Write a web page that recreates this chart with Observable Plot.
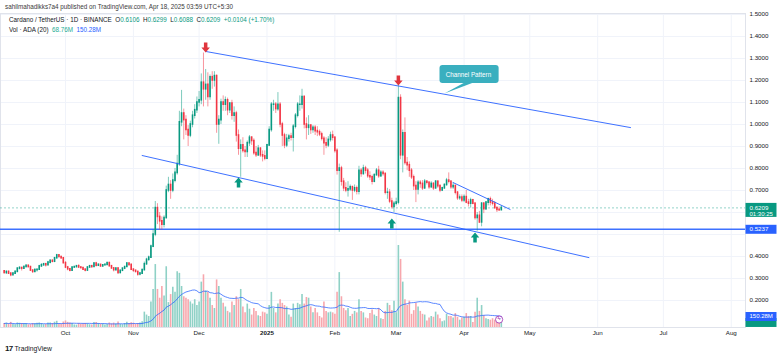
<!DOCTYPE html>
<html><head><meta charset="utf-8">
<script src="https://cdn.jsdelivr.net/npm/d3@7"></script>
<script src="https://cdn.jsdelivr.net/npm/@observablehq/plot@0.6"></script>
<style>
body{margin:0;background:#fff;font-family:"Liberation Sans",Arial,sans-serif;}
#wrap{position:relative;width:780px;height:358px;overflow:hidden;background:#fff;}
#wrap svg{position:absolute;left:0;top:0;}
.t{position:absolute;white-space:nowrap;font-size:6.3px;line-height:8px;color:#131722;}
.g{color:#089981}.b{color:#2962ff}.gr{color:#22ab94}
</style></head><body>
<div id="wrap">
  <div class="t" style="left:5px;top:3px;color:#3a3a3a">sahilmahadikks7a4 published on TradingView.com, Apr 18, 2025 03:59 UTC+5:30</div>
  <div class="t" style="left:9px;top:16px;z-index:3">Cardano / TetherUS · 1D · BINANCE&nbsp; O<span class="g">0.6106</span>&nbsp; H<span class="g">0.6299</span>&nbsp; L<span class="g">0.6088</span>&nbsp; C<span class="g">0.6209</span>&nbsp; <span class="g">+0.0104 (+1.70%)</span></div>
  <div class="t" style="left:9px;top:26px;z-index:3">Vol · ADA (20)&nbsp; <span class="gr">68.76M</span>&nbsp; <span class="b">150.28M</span></div>
  <div class="t" style="left:5px;top:345px;font-size:6.8px;z-index:3"><b style="font-size:8px;letter-spacing:-0.6px">17</b> TradingView</div>
</div>
<script>
// ---- data (ADAUSDT daily, Binance) ----
const startDate = "2024-09-03";
const firstOpen = 0.333;
const closes = [
 .325,.330,.322,.315,.322,.330,.345,.348,.345,.352,.358,.352,.336,.330,.338,.340,.355,.360,.365,.360,.372,.380,.376,.392,.405,.398,.392,.370,
 .350,.342,.336,.350,.352,.356,.350,.348,.340,.336,.350,.356,.352,.368,.358,.362,.355,.360,.362,.370,.356,.346,.338,.345,.325,.335,.345,.352,.368,.362,.340,
 .335,.330,.318,.322,.338,.365,.385,.395,.445,.500,.620,.580,.560,.545,.575,.700,.725,.700,.745,.780,.820,1.010,1.050,1.020,.975,.950,1.000,1.040,1.065,1.100,
 1.110,1.190,1.160,1.180,1.125,1.215,1.200,1.220,1.000,1.020,1.100,1.090,1.110,1.065,1.095,1.040,1.050,.950,.890,.905,.880,.875,.915,.940,.925,.870,.860,.890,.860,.855,.845,
 .905,.975,1.090,1.090,1.070,1.090,1.000,.950,.905,.935,.945,.940,.990,1.040,1.090,1.090,1.125,1.000,.985,.995,.975,.985,.970,.965,.955,.935,.915,.905,.930,.950,.940,
 .880,.790,.800,.740,.710,.700,.705,.715,.700,.710,.695,.790,.775,.800,.790,.765,.760,.740,.770,.790,.765,.780,.775,.690,.690,.650,.625,.640,
 .645,1.120,.860,.960,.825,.815,.790,.760,.720,.705,.735,.730,.710,.740,.735,.715,.730,.710,.740,.720,.700,.710,.725,.745,.740,.715,.720,.690,.665,.668,.655,
 .670,.645,.640,.655,.640,.575,.585,.555,.640,.615,.645,.660,.645,.640,.620,.612,.6105,.6209];
const highs = [
 .336,.334,.334,.327,.326,.333,.348,.353,.350,.357,.362,.360,.355,.338,.344,.343,.360,.368,.367,.366,.378,.384,.386,.396,.410,.406,.401,.395,
 .376,.355,.346,.352,.355,.359,.362,.354,.350,.344,.353,.358,.357,.372,.374,.367,.364,.363,.365,.373,.374,.358,.348,.348,.350,.338,.347,.355,.372,.370,.365,
 .345,.338,.332,.328,.342,.375,.392,.402,.452,.520,.650,.640,.600,.580,.585,.720,.760,.745,.775,.800,.860,1.060,1.155,1.070,1.040,.995,1.015,1.060,1.090,1.125,
 1.150,1.230,1.325,1.250,1.235,1.225,1.240,1.240,1.225,1.040,1.115,1.130,1.125,1.120,1.100,1.110,1.080,1.060,.975,.930,.940,.900,.925,.950,.945,.935,.900,.905,.895,.880,.880,
 .910,.990,1.100,1.110,1.100,1.145,1.100,1.010,.960,.955,.955,.960,1.000,1.050,1.100,1.130,1.160,1.130,1.030,1.040,1.000,.995,.995,.990,.975,.965,.945,.940,.945,.965,.970,
 .945,.890,.820,.810,.755,.735,.740,.725,.720,.725,.720,.810,.800,.815,.810,.800,.785,.770,.775,.800,.810,.790,.790,.780,.710,.705,.665,.650,
 .665,1.180,1.135,.975,1.030,.850,.830,.800,.770,.740,.745,.745,.745,.750,.745,.740,.740,.735,.745,.745,.725,.715,.730,.755,.780,.745,.735,.725,.695,.680,.680,
 .680,.700,.660,.665,.660,.645,.600,.605,.645,.645,.650,.665,.670,.660,.650,.625,.625,.6299];
const lows = [
 .320,.318,.319,.308,.313,.318,.327,.339,.334,.342,.348,.349,.334,.323,.328,.329,.338,.352,.357,.352,.358,.366,.372,.373,.389,.394,.387,.366,
 .345,.335,.330,.334,.346,.348,.348,.343,.337,.330,.334,.348,.347,.350,.352,.355,.352,.352,.357,.359,.352,.342,.330,.335,.318,.322,.332,.340,.350,.356,.336,
 .328,.326,.310,.312,.318,.335,.360,.378,.392,.440,.490,.545,.520,.520,.530,.570,.690,.660,.690,.735,.770,.810,.990,.930,.950,.900,.940,.985,1.025,1.050,
 1.080,1.090,1.080,1.110,1.080,1.110,1.160,1.170,.960,.910,1.000,1.060,1.060,1.040,1.050,1.020,1.010,.920,.860,.760,.870,.850,.850,.900,.905,.860,.850,.855,.850,.830,.835,
 .840,.900,.965,1.060,1.050,1.060,.985,.900,.890,.895,.920,.925,.875,.980,1.030,1.060,1.070,.980,.930,.950,.955,.960,.950,.945,.945,.925,.860,.890,.895,.920,.925,
 .870,.770,.510,.720,.695,.690,.670,.695,.655,.690,.680,.680,.760,.770,.775,.755,.745,.725,.735,.765,.755,.760,.765,.680,.660,.640,.615,.600,
 .630,.635,.840,.780,.815,.790,.760,.750,.700,.645,.680,.710,.700,.705,.725,.705,.710,.700,.705,.710,.690,.695,.705,.720,.730,.705,.705,.680,.655,.655,.645,
 .645,.640,.625,.620,.635,.565,.515,.550,.535,.595,.610,.630,.630,.630,.615,.600,.605,.6088];
const volumes = [ // millions of ADA
 55,60,48,70,40,38,62,58,55,50,52,36,40,55,52,58,62,55,38,40,60,62,55,72,85,45,42,75,
 90,70,60,55,35,32,55,45,48,55,50,38,35,70,68,55,45,48,35,40,62,50,60,48,75,42,38,55,72,55,65,
 60,42,55,62,80,210,170,150,350,520,860,520,400,560,430,830,340,450,550,480,760,740,560,420,400,380,350,320,380,300,
 350,620,720,500,480,400,300,260,650,560,400,330,280,220,200,350,300,420,380,520,280,200,320,250,170,260,220,160,150,210,200,
 180,300,480,260,200,320,380,330,300,280,170,140,320,260,330,310,450,320,410,400,280,200,260,200,150,130,350,220,200,210,200,
 180,480,750,420,260,230,260,150,180,220,200,380,220,200,130,120,190,240,170,150,260,120,110,220,330,300,230,360,
 200,1120,930,620,380,300,360,180,230,330,280,220,180,170,90,130,150,140,210,170,120,80,90,180,150,150,130,190,140,100,130,
 140,190,150,150,70,210,400,220,300,160,120,110,100,120,100,110,80,68.76];

const priceTicks = [0.2,0.3,0.4,0.5,0.6,0.7,0.8,0.9,1.0,1.1,1.2,1.3,1.4,1.5];
// labels left visible on the price axis (0.5 and 0.6 sit under the highlighted price boxes)
const priceTickLabels = [0.2,0.3,0.4,0.7,0.8,0.9,1.0,1.1,1.2,1.3,1.4,1.5];
const monthTicks = ["2024-10-01","2024-11-01","2024-12-01","2025-01-01","2025-02-01","2025-03-01","2025-04-01","2025-05-01","2025-06-01","2025-07-01","2025-08-01"];
const monthLabels = ["Oct","Nov","Dec","2025","Feb","Mar","Apr","May","Jun","Jul","Aug"];

const supportLevel = 0.5237;
const lastPrice = 0.6209;
const countdown = "01:30:25";
const volMA = 150.28, lastVol = 68.76;

const channelLines = [
  {id:"upper", date:"2024-12-04", price:1.332}, {id:"upper", date:"2025-06-16", price:0.986},
  {id:"lower", date:"2024-11-05", price:0.859}, {id:"lower", date:"2025-05-28", price:0.395},
  {id:"short", date:"2025-03-27", price:0.736}, {id:"short", date:"2025-04-22", price:0.614}
];
const topArrows = [{date:"2024-12-04", price:1.35},{date:"2025-03-02", price:1.20}];
const bottomArrows = [{date:"2024-12-19", price:0.736},{date:"2025-02-27", price:0.55},{date:"2025-04-06", price:0.486}];
const callout = {text:"Channel Pattern", x1:"2025-03-21", x2:"2025-04-17", y1:1.186, y2:1.268, tx:"2025-04-03", ty:1.227};
const calloutTail = [{date:"2025-04-01", price:1.19},{date:"2025-04-05", price:1.19},{date:"2025-03-23", price:1.141}];
const eventDate = "2025-04-17";

// ---- build ----
const D = s => new Date(s);
const start = D(startDate);
const rows = closes.map((c,i)=>({date:d3.utcDay.offset(start,i), open:i?closes[i-1]:firstOpen, high:highs[i], low:lows[i], close:c, vol:volumes[i]}));
rows.forEach(d=>d.up = d.close>=d.open);
const ups = rows.filter(d=>d.up), downs = rows.filter(d=>!d.up);
const UP="#089981", DN="#f23645", BLUE="#2962ff", FONT='"Liberation Sans", Arial, sans-serif';
const chan = channelLines.map(d=>({...d, date:D(d.date)}));
const months = monthTicks.map((d,i)=>({date:D(d), label:monthLabels[i]}));

const common = {
  width:780, height:358, marginTop:13, marginBottom:31, marginLeft:0, marginRight:35,
  x:{type:"utc", domain:[D("2024-09-01T07:40Z"), D("2025-08-07T12:00Z")], axis:null}
};
const arrowSym = dir => ({draw(ctx,size){const s=Math.sqrt(size/Math.PI)*dir;
  ctx.moveTo(-0.35*s,-s);ctx.lineTo(0.35*s,-s);ctx.lineTo(0.35*s,0);ctx.lineTo(0.85*s,0);ctx.lineTo(0,s);ctx.lineTo(-0.85*s,0);ctx.lineTo(-0.35*s,0);ctx.closePath();}});
const boxSym = (w,h,top) => ({draw(ctx){ctx.rect(0,top,w,h);}});

const pricePlot = Plot.plot({
  ...common,
  y:{domain:[0.0773,1.5045], axis:null},
  style:{fontFamily:FONT, background:"white"},
  marks:[
    Plot.ruleY(priceTicks,{stroke:"#f0f3fa"}),
    Plot.ruleX(months,{x:"date", stroke:"#f0f3fa"}),
    Plot.frame({stroke:"#e0e3eb"}),
    Plot.ruleY([lastPrice],{stroke:UP, strokeOpacity:0.55, strokeDasharray:"2,2", strokeWidth:0.8}),
    Plot.ruleY([supportLevel],{stroke:BLUE, strokeWidth:1.4, strokeOpacity:0.9}),
    Plot.ruleX(ups,{x:"date", y1:"low", y2:"high", stroke:UP, strokeWidth:0.7, strokeOpacity:0.75}),
    Plot.ruleX(downs,{x:"date", y1:"low", y2:"high", stroke:DN, strokeWidth:0.7, strokeOpacity:0.75}),
    Plot.ruleX(ups,{x:"date", y1:"open", y2:"close", stroke:UP, strokeWidth:1.6, strokeLinecap:"square"}),
    Plot.ruleX(downs,{x:"date", y1:"open", y2:"close", stroke:DN, strokeWidth:1.6, strokeLinecap:"square"}),
    Plot.line(chan,{x:"date", y:"price", z:"id", stroke:BLUE, strokeWidth:1, strokeOpacity:0.9}),
    Plot.dot(topArrows,{x:d=>D(d.date), y:"price", r:5, symbol:arrowSym(1), fill:"#e0353d", stroke:"none"}),
    Plot.dot(bottomArrows,{x:d=>D(d.date), y:"price", r:5, symbol:arrowSym(-1), fill:UP, stroke:"none"}),
    Plot.line(calloutTail,{x:d=>D(d.date), y:"price", fill:"#3aafbf", stroke:"none", curve:"linear-closed"}),
    Plot.rect([callout],{x1:d=>D(d.x1), x2:d=>D(d.x2), y1:"y1", y2:"y2", fill:"#3aafbf", rx:3}),
    Plot.text([callout],{x:d=>D(d.tx), y:"ty", text:"text", fill:"white", fontSize:6.3}),
    Plot.text(priceTickLabels,{y:d=>d, text:d=>d.toFixed(4), frameAnchor:"right", dx:4, textAnchor:"start", fill:"#131722", fontSize:6.2}),
    Plot.dot([lastPrice],{y:d=>d, frameAnchor:"right", symbol:boxSym(31,14,-5), fill:UP, stroke:"none"}),
    Plot.text([lastPrice],{y:d=>d, text:d=>d.toFixed(4), frameAnchor:"right", dx:4, textAnchor:"start", fill:"white", fontSize:6.2}),
    Plot.text([lastPrice],{y:d=>d, text:()=>countdown, frameAnchor:"right", dx:4, dy:6.5, textAnchor:"start", fill:"white", fontSize:6}),
    Plot.dot([supportLevel],{y:d=>d, frameAnchor:"right", symbol:boxSym(31,9,-4.5), fill:BLUE, stroke:"none"}),
    Plot.text([supportLevel],{y:d=>d, text:d=>d.toFixed(4), frameAnchor:"right", dx:4, textAnchor:"start", fill:"white", fontSize:6.2}),
    Plot.text(months.filter(d=>d.label!=="2025"),{x:"date", text:"label", frameAnchor:"bottom", dy:7, fill:"#131722", fontSize:6.2}),
    Plot.text(months.filter(d=>d.label==="2025"),{x:"date", text:"label", frameAnchor:"bottom", dy:7, fill:"#131722", fontSize:6.2, fontWeight:"bold"})
  ]
});

const volPlot = Plot.plot({
  ...common,
  y:{domain:[0,4290], axis:null},
  style:{fontFamily:FONT, background:"transparent"},
  marks:[
    Plot.ruleX(ups,{x:"date", y:"vol", stroke:"#8fd1c6", strokeWidth:1.6}),
    Plot.ruleX(downs,{x:"date", y:"vol", stroke:"#f7a7ad", strokeWidth:1.6}),
    Plot.lineY(rows, Plot.windowY({k:20, anchor:"end"}, {x:"date", y:"vol", stroke:BLUE, strokeWidth:0.9, strokeOpacity:0.85})),
    Plot.dot([eventDate],{x:d=>D(d), frameAnchor:"bottom", dy:-8, r:3.6, fill:"white", stroke:"#9c27b0", strokeWidth:0.8}),
    Plot.text([eventDate],{x:d=>D(d), frameAnchor:"bottom", dy:-8, text:()=>"ϟ", fill:"#9c27b0", fontSize:6}),
    Plot.dot([lastVol],{y:d=>d, frameAnchor:"right", symbol:boxSym(31,9,-4.5), fill:UP, stroke:"none"}),
    Plot.dot([volMA],{y:d=>d, frameAnchor:"right", symbol:boxSym(31,9,-4.5), fill:BLUE, stroke:"none"}),
    Plot.text([volMA],{y:d=>d, text:d=>d.toFixed(2)+"M", frameAnchor:"right", dx:4, textAnchor:"start", fill:"white", fontSize:6})
  ]
});

const wrap = document.getElementById("wrap");
wrap.prepend(volPlot);
wrap.prepend(pricePlot);
</script>
</body></html>
